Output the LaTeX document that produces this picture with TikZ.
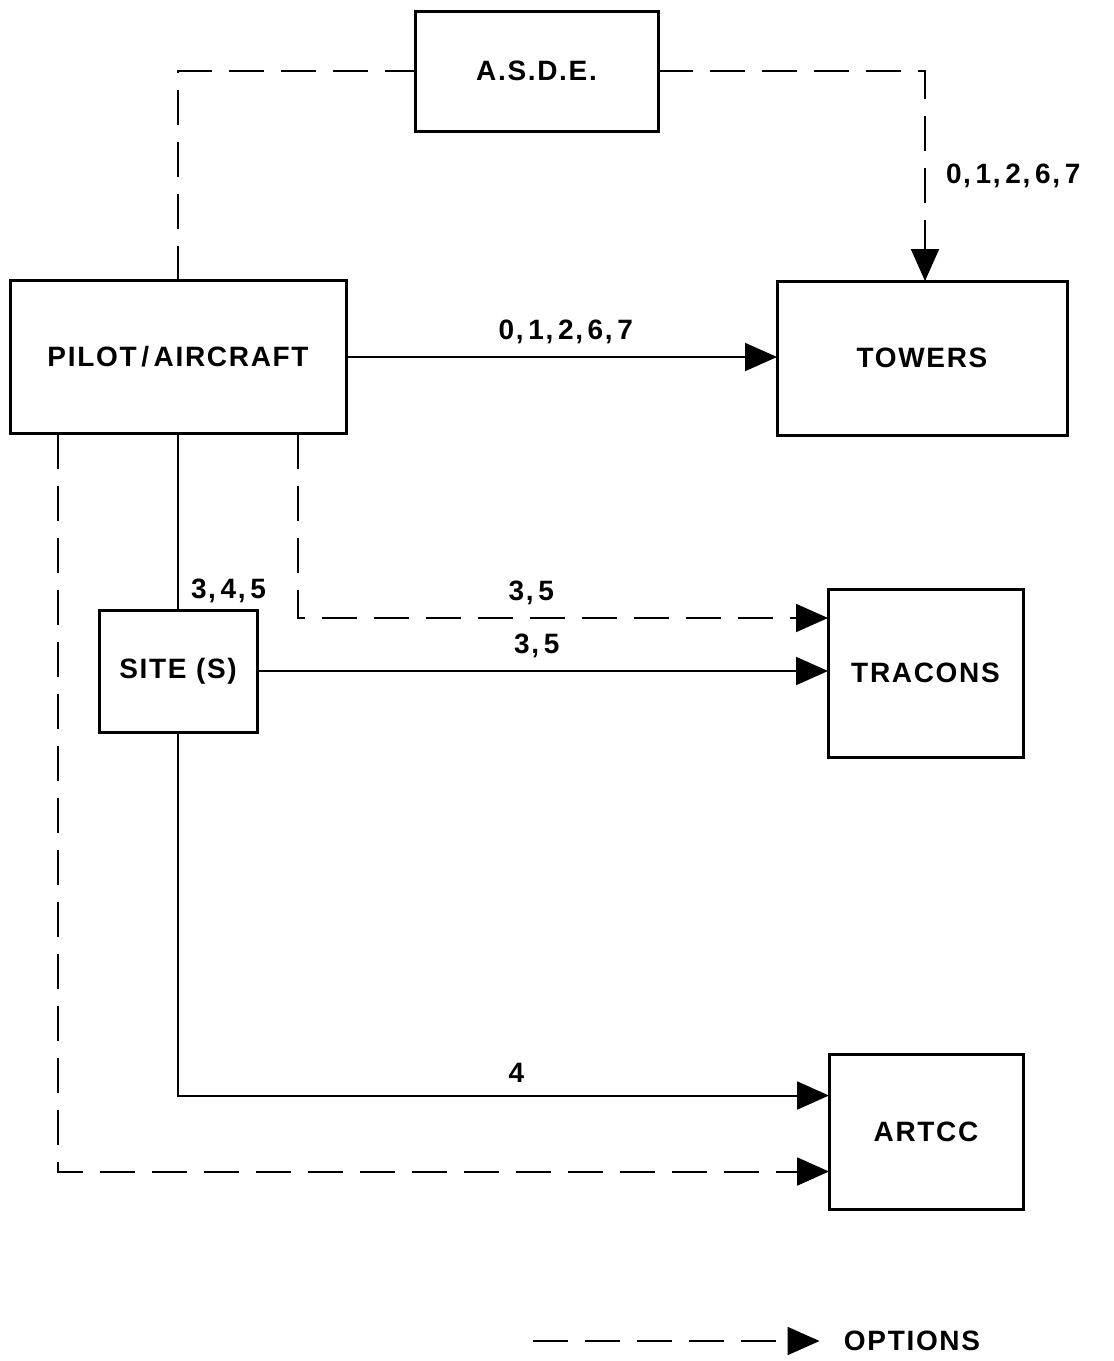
\documentclass[tikz,border=0pt]{standalone}
\usepackage{fontspec}
\setmainfont{Liberation Sans}[LetterSpace=6]
\usetikzlibrary{arrows.meta}

\tikzset{blockBox/.style={draw,rectangle,line width=1.5pt,inner sep=0pt,outer sep=0pt,
  font=\fontsize{14}{16}\selectfont\bfseries},
 flowLine/.style={line width=1pt,-{Triangle[length=16pt,width=14pt]}},
 plainLine/.style={line width=1pt},
 optLine/.style={line width=1pt,dash pattern=on 17.5pt off 8.5pt},
 optArrow/.style={optLine,-{Triangle[length=16pt,width=14pt]}},
 codeLabel/.style={font=\fontsize{14}{16}\selectfont\bfseries,inner sep=2pt}}

\begin{document}
\begin{tikzpicture}[x=0.5pt,y=-0.5pt]
\useasboundingbox (0,0) rectangle (1114,1361);
\node[blockBox,minimum width=121.5pt,minimum height=60pt] (asde) at (536.5,71) {A.S.D.E.};
\node[blockBox,minimum width=168pt,minimum height=76.5pt] (pilot) at (178,357) {PILOT\,/\,AIRCRAFT};
\node[blockBox,minimum width=145pt,minimum height=77pt] (towers) at (922,358) {TOWERS};
\node[blockBox,minimum width=79pt,minimum height=61pt] (site) at (178,671) {SITE (S)};
\node[blockBox,minimum width=97.5pt,minimum height=84pt] (tracons) at (925.5,673) {TRACONS};
\node[blockBox,minimum width=97pt,minimum height=77.5pt] (artcc) at (926,1131.5) {ARTCC};
% upper options via the A.S.D.E.
\draw[optLine] (pilot.north) |- (asde.west);
\draw[optArrow] (asde.east) -| ([xshift=1.5pt]towers.north)
  node[codeLabel,pos=0.75,right=8pt] {0,\,1,\,2,\,6,\,7};
\draw[flowLine] (pilot.east) -- node[codeLabel,above=4pt,pos=0.51] {0,\,1,\,2,\,6,\,7} (towers.west |- pilot.east);
% down to the sites
\draw[plainLine] (pilot.south) -- (site.north)
  node[codeLabel,pos=1,anchor=south west,xshift=4pt,yshift=1pt] {3,\,4,\,5};
\draw[optArrow] ([xshift=-24pt]pilot.south east) |- ([yshift=27.5pt]tracons.west)
  node[codeLabel,pos=0.72,above=4pt] {3,\,5};
\draw[flowLine] (site.east) -- node[codeLabel,above=4pt,pos=0.49] {3,\,5} (tracons.west |- site.east);
\draw[flowLine] (site.south) |- ([yshift=18pt]artcc.west)
  node[codeLabel,pos=0.76,above=4pt] {4};
\draw[optArrow] ([xshift=24pt]pilot.south west) |- ([yshift=-20pt]artcc.west);
% legend
\coordinate (legA) at (533,1341);
\node[codeLabel,inner sep=0pt] (legOpt) at (912,1341) {OPTIONS};
\draw[optArrow] (legA) -- ([xshift=-12pt]legOpt.west);
\end{tikzpicture}
\end{document}
